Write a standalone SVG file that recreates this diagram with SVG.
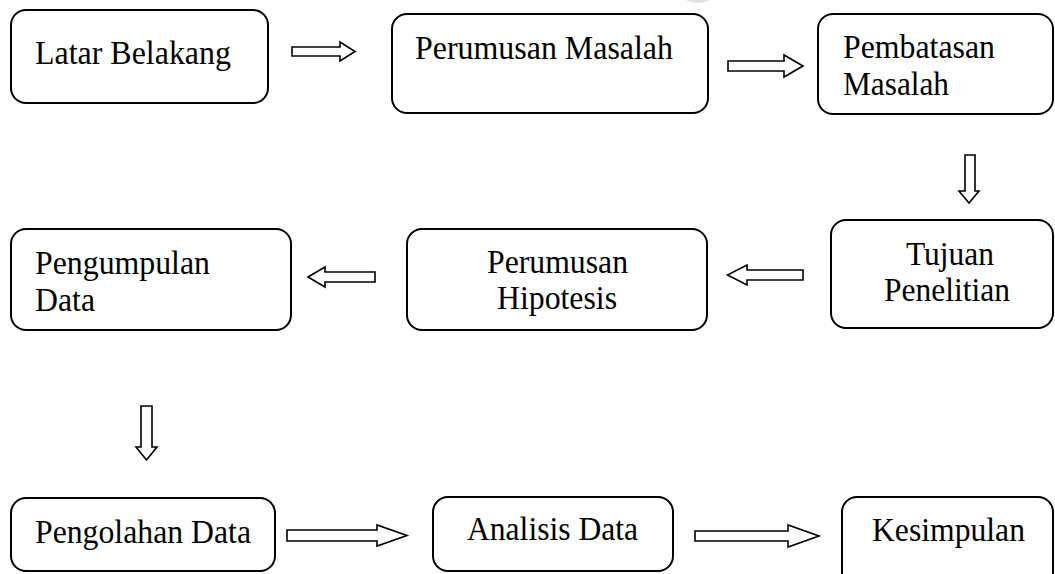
<svg xmlns="http://www.w3.org/2000/svg" width="1055" height="574" viewBox="0 0 1055 574">
<style>
.box{fill:#fff;stroke:#000;stroke-width:2}
.arr{fill:#fff;stroke:#000;stroke-width:1.6;stroke-linejoin:miter}
.t{font-family:"Liberation Serif","Times New Roman",serif;font-size:33px;fill:#000}
</style>
<rect width="1055" height="574" fill="#fff"/>
<ellipse cx="698" cy="-22" rx="26" ry="25" fill="#e2e2e2"/>
<g id="connectors">
<path class="arr" d="M292,47 H340 V42 L355,51.5 L340,61 V56 H292 Z"/>
<path class="arr" d="M728,61 H784 V55 L803,66 L784,77 V71 H728 Z"/>
<path class="arr" d="M965,155 H975 V191 H979 L969,203 L959,191 H965 Z"/>
<path class="arr" d="M803,270 H747 V265 L727.5,275 L747,285 V280 H803 Z"/>
<path class="arr" d="M375,272 H325 V267 L308,277 L325,287 V282 H375 Z"/>
<path class="arr" d="M141,406 H152 V447 H157 L146.5,460 L136,447 H141 Z"/>
<path class="arr" d="M287,530 H377 V525 L407,535.5 L377,546 V541 H287 Z"/>
<path class="arr" d="M695,531 H788 V525 L819,536 L788,547 V541 H695 Z"/>
</g>
<g id="latar-belakang">
<rect class="box" x="11" y="10" width="257" height="93" rx="15"/>
<text class="t" x="35" y="64" textLength="196" lengthAdjust="spacingAndGlyphs">Latar Belakang</text>
</g>
<g id="perumusan-masalah">
<rect class="box" x="392" y="14" width="316" height="99" rx="15"/>
<text class="t" x="415" y="59" textLength="258" lengthAdjust="spacingAndGlyphs">Perumusan Masalah</text>
</g>
<g id="pembatasan-masalah">
<rect class="box" x="818" y="14" width="235" height="100" rx="15"/>
<text class="t" x="843" y="58" textLength="152" lengthAdjust="spacingAndGlyphs">Pembatasan</text>
<text class="t" x="843" y="95" textLength="106" lengthAdjust="spacingAndGlyphs">Masalah</text>
</g>
<g id="tujuan-penelitian">
<rect class="box" x="831" y="220" width="222" height="108" rx="15"/>
<text class="t" x="906" y="265" textLength="88" lengthAdjust="spacingAndGlyphs">Tujuan</text>
<text class="t" x="884" y="301" textLength="126" lengthAdjust="spacingAndGlyphs">Penelitian</text>
</g>
<g id="perumusan-hipotesis">
<rect class="box" x="407" y="229" width="300" height="101" rx="15"/>
<text class="t" x="487" y="273" textLength="141" lengthAdjust="spacingAndGlyphs">Perumusan</text>
<text class="t" x="497" y="309" textLength="120" lengthAdjust="spacingAndGlyphs">Hipotesis</text>
</g>
<g id="pengumpulan-data">
<rect class="box" x="11" y="229" width="280" height="101" rx="15"/>
<text class="t" x="35" y="274" textLength="175" lengthAdjust="spacingAndGlyphs">Pengumpulan</text>
<text class="t" x="35" y="311" textLength="60" lengthAdjust="spacingAndGlyphs">Data</text>
</g>
<g id="pengolahan-data">
<rect class="box" x="11" y="498" width="264" height="73" rx="15"/>
<text class="t" x="35" y="543" textLength="216" lengthAdjust="spacingAndGlyphs">Pengolahan Data</text>
</g>
<g id="analisis-data">
<rect class="box" x="433" y="497" width="240" height="74" rx="15"/>
<text class="t" x="467" y="540" textLength="171" lengthAdjust="spacingAndGlyphs">Analisis Data</text>
</g>
<g id="kesimpulan">
<rect class="box" x="842" y="497" width="211" height="90" rx="15"/>
<text class="t" x="872" y="541" textLength="153" lengthAdjust="spacingAndGlyphs">Kesimpulan</text>
</g>
</svg>
